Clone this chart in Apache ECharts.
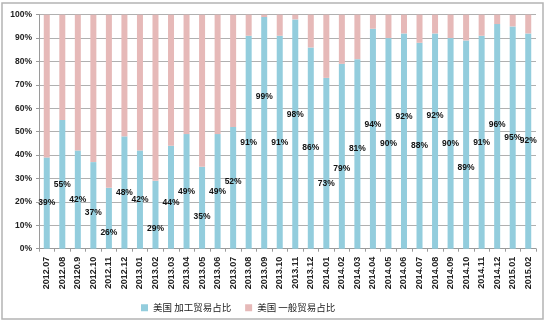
<!DOCTYPE html>
<html>
<head>
<meta charset="utf-8">
<script src="https://cdn.jsdelivr.net/npm/echarts@6/dist/echarts.min.js"></script>
<style>html,body{margin:0;padding:0;background:#fff;}#c{width:549px;height:323px;}</style>
</head>
<body>
<div id="c"></div>
<script>
var categories = ['2012.07','2012.08','20120.9','2012.10','2012.11','2012.12',
  '2013.01','2013.02','2013.03','2013.04','2013.05','2013.06','2013.07','2013.08','2013.09','2013.10','2013.11','2013.12',
  '2014.01','2014.02','2014.03','2014.04','2014.05','2014.06','2014.07','2014.08','2014.09','2014.10','2014.11','2014.12',
  '2015.01','2015.02'];
var processingShare = [39,55,42,37,26,48,42,29,44,49,35,49,52,91,99,91,98,86,73,79,81,94,90,92,88,92,90,89,91,96,95,92];
var generalShare = [61,45,58,63,74,52,58,71,56,51,65,51,48,9,1,9,2,14,27,21,19,6,10,8,12,8,10,11,9,4,5,8];
var yTicks = [0,10,20,30,40,50,60,70,80,90,100];
var seriesNames = ['美国 加工贸易占比','美国 一般贸易占比'];
// label nudges (pixels, vertical) reproducing the hand-placed labels of the original
var labelNudge = [0,0,0,7,14,0,0,14,5,0,9,0,-6,0,-36,0,-19,0,20,12,-5,-14,0,-24,0,-25,0,23,0,-12,0,0];

var chart = echarts.init(document.getElementById('c'), null, {renderer:'canvas'});
var blueData = processingShare.map(function(v,i){
  return {value:v, label:{offset:[0,labelNudge[i]]}};
});
var option = {
  animation:false,
  backgroundColor:'#fff',
  graphic:[{type:'rect',shape:{x:2,y:3,width:541,height:316},style:{fill:'none',stroke:'#b4b4b4',lineWidth:1.5},silent:true}],
  grid:{left:39,right:13,top:14.7,bottom:74.3,containLabel:false},
  legend:{
    data:seriesNames, left:136, top:298, icon:'rect', itemWidth:7, itemHeight:7, itemGap:14,
    textStyle:{fontFamily:'Noto Sans CJK SC', fontSize:9.5, color:'#222'}
  },
  xAxis:{
    type:'category', data:categories, boundaryGap:true,
    axisLine:{lineStyle:{color:'#9a9a9a'}},
    axisTick:{show:true, length:3, interval:0, lineStyle:{color:'#9a9a9a'}},
    axisLabel:{rotate:90, interval:0, margin:8, fontSize:9, fontWeight:'bold', fontFamily:'Liberation Sans', color:'#222'}
  },
  yAxis:{
    type:'value', min:yTicks[0], max:yTicks[yTicks.length-1], interval:yTicks[1]-yTicks[0],
    axisLine:{show:true, lineStyle:{color:'#9a9a9a'}},
    axisTick:{show:true, length:3, lineStyle:{color:'#9a9a9a'}},
    splitLine:{lineStyle:{color:'#b0b0b0', width:1}},
    axisLabel:{formatter:'{value}%', margin:7, fontSize:8.5, fontWeight:'bold', fontFamily:'Liberation Sans', color:'#222'}
  },
  series:[
    {name:seriesNames[0], type:'bar', stack:'s', barWidth:6, data:blueData,
     itemStyle:{color:'#93cddd'},
     label:{show:true, position:'inside', formatter:'{c}%', fontSize:8.5, fontWeight:'bold', fontFamily:'Liberation Sans', color:'#111'}},
    {name:seriesNames[1], type:'bar', stack:'s', barWidth:6, data:generalShare,
     itemStyle:{color:'#e6b9b8'}}
  ]
};
chart.setOption(option);
</script>
</body>
</html>
